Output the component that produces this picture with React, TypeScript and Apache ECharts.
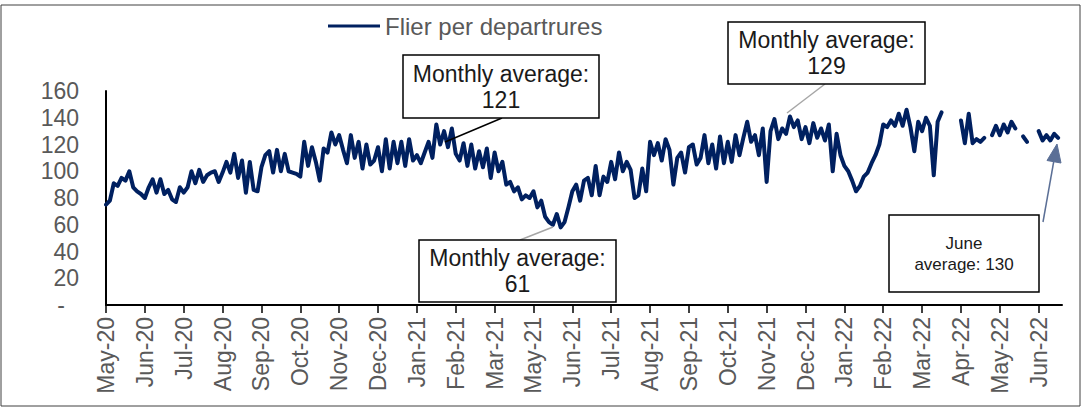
import React, { useEffect, useRef } from 'react';
import * as echarts from 'echarts';

// Month tick labels (one every 10 points of the series; April 2021 is skipped as in the source)
const tickLabels = [
  'May-20', 'Jun-20', 'Jul-20', 'Aug-20', 'Sep-20', 'Oct-20', 'Nov-20', 'Dec-20',
  'Jan-21', 'Feb-21', 'Mar-21', 'May-21', 'Jun-21', 'Jul-21', 'Aug-21', 'Sep-21',
  'Oct-21', 'Nov-21', 'Dec-21', 'Jan-22', 'Feb-22', 'Mar-22', 'Apr-22', 'May-22', 'Jun-22',
];
const pointsPerTick = 10;

const seriesName = 'Flier per departrures';

// Flier per departure, sampled roughly every 3 days (null = no data)
const values: (number | null)[] = [
  75, 78, 91, 89, 95, 93, 100, 88, 85, 83,
  80, 88, 94, 84, 94, 83, 86, 79, 77, 88,
  84, 88, 100, 91, 101, 92, 97, 99, 100, 92,
  99, 107, 99, 113, 95, 108, 84, 107, 86, 85,
  103, 112, 115, 99, 116, 100, 113, 100, 99, 98,
  96, 122, 104, 118, 107, 93, 117, 114, 129, 120,
  127, 116, 106, 127, 110, 122, 102, 120, 105, 108,
  118, 100, 124, 102, 122, 106, 122, 104, 124, 108,
  112, 106, 114, 122, 110, 135, 120, 130, 118, 132,
  113, 108, 121, 104, 120, 102, 115, 103, 117, 95,
  114, 100, 107, 90, 92, 85, 88, 79, 82, 80,
  85, 73, 78, 66, 62, 60, 68, 58, 62, 73,
  85, 90, 78, 93, 95, 82, 104, 82, 96, 92,
  107, 94, 114, 100, 107, 101, 80, 82, 102, 85,
  122, 112, 121, 108, 124, 116, 90, 110, 114, 99,
  118, 120, 105, 110, 127, 106, 120, 102, 126, 106,
  122, 107, 127, 112, 125, 137, 122, 127, 112, 132,
  92, 130, 139, 124, 132, 128, 141, 133, 138, 124,
  133, 121, 136, 125, 132, 123, 135, 100, 128, 112,
  104, 100, 93, 85, 89, 96, 99, 106, 112, 120,
  135, 133, 138, 134, 143, 134, 146, 133, 115, 137,
  130, 140, 134, 97, 137, 144, null, null, null, null,
  138, 121, 143, 121, 124, 122, 125, null, 127, 134,
  127, 135, 129, 137, 132, null, 126, 122, null, null,
  130, 123, 127, 123, 128, 125, null,
];

const annotations = [
  { text: 'Monthly average:\n121' },
  { text: 'Monthly average:\n61' },
  { text: 'Monthly average:\n129' },
  { text: 'June\naverage: 130' },
];

const FONT = '"Liberation Sans", Arial, sans-serif';

export default function App() {
  const ref = useRef<HTMLDivElement>(null);

  useEffect(() => {
    if (!ref.current) return;
    const chart = echarts.init(ref.current, undefined, { renderer: 'svg' });

    const categories = values.map((_, i) =>
      i % pointsPerTick === 0 && tickLabels[i / pointsPerTick] ? tickLabels[i / pointsPerTick] : ''
    );
    const isTick = (i: number) => i % pointsPerTick === 0 && i / pointsPerTick < tickLabels.length;

    const box = (x: number, y: number, w: number, h: number, text: string, size: number, lh: number) => [
      {
        type: 'rect',
        z: 100,
        shape: { x, y, width: w, height: h },
        style: { fill: '#ffffff', stroke: '#000000', lineWidth: 1.5 },
      },
      {
        type: 'text',
        z: 101,
        x: x + w / 2,
        y: y + h / 2,
        style: {
          text,
          fill: '#1a1a1a',
          font: `${size}px ${FONT}`,
          textAlign: 'center',
          textVerticalAlign: 'middle',
          lineHeight: lh,
        },
      },
    ];

    const option: any = {
      animation: false,
      backgroundColor: '#ffffff',
      grid: { left: 106, right: 26, top: 91, bottom: 105, containLabel: false },
      legend: {
        data: [seriesName],
        left: 323,
        top: 9,
        itemWidth: 52,
        itemHeight: 14,
        itemGap: 5,
        icon: 'path://M0,5.5 L52,5.5 L52,8.5 L0,8.5 Z',
        textStyle: { fontSize: 24, color: '#595959', fontFamily: FONT, padding: [0, 0, 0, 0] },
      },
      xAxis: {
        type: 'category',
        data: categories,
        boundaryGap: false,
        axisLine: { lineStyle: { color: '#000000', width: 2 } },
        axisTick: {
          show: true,
          interval: (i: number) => isTick(i),
          length: 8,
          lineStyle: { color: '#000000', width: 1.5 },
        },
        axisLabel: {
          interval: (i: number) => isTick(i),
          rotate: 90,
          margin: 12,
          fontSize: 23,
          color: '#595959',
          fontFamily: FONT,
        },
        splitLine: { show: false },
      },
      yAxis: {
        type: 'value',
        min: 0,
        max: 160,
        interval: 20,
        axisLine: { show: true, lineStyle: { color: '#000000', width: 2 } },
        axisTick: { show: false },
        splitLine: { show: false },
        axisLabel: {
          margin: 27,
          fontSize: 23,
          color: '#595959',
          fontFamily: FONT,
          formatter: (v: number) => (v === 0 ? '{d|-}' : String(v)),
          rich: {
            d: { fontSize: 23, color: '#595959', fontFamily: FONT, padding: [0, 14, 0, 0] },
          },
        },
      },
      series: [
        {
          type: 'line',
          name: seriesName,
          data: values,
          symbol: 'none',
          connectNulls: false,
          lineStyle: { color: '#002060', width: 4, join: 'round', cap: 'round' },
          itemStyle: { color: '#002060' },
        },
      ],
      graphic: [
        {
          type: 'rect',
          z: 0,
          silent: true,
          shape: { x: 1, y: 5, width: 1079, height: 401 },
          style: { fill: 'none', stroke: '#404040', lineWidth: 1 },
        },
        { type: 'line', z: 99, shape: { x1: 502, y1: 118, x2: 445, y2: 142 }, style: { stroke: '#000000', lineWidth: 1.5 } },
        { type: 'line', z: 99, shape: { x1: 520, y1: 240, x2: 553, y2: 227 }, style: { stroke: '#a6a6a6', lineWidth: 1.5 } },
        { type: 'line', z: 99, shape: { x1: 825, y1: 84, x2: 787, y2: 113 }, style: { stroke: '#a6a6a6', lineWidth: 1.5 } },
        { type: 'line', z: 99, shape: { x1: 1043, y1: 222, x2: 1054, y2: 160 }, style: { stroke: '#5b6f96', lineWidth: 1.5 } },
        {
          type: 'polygon',
          z: 99,
          shape: { points: [[1057, 144], [1061, 163], [1047, 160.5]] },
          style: { fill: '#5b6f96', stroke: '#5b6f96', lineWidth: 1 },
        },
        ...box(403, 55, 196, 63, annotations[0].text, 23, 26),
        ...box(419, 240, 197, 62, annotations[1].text, 23, 26),
        ...box(728, 22, 197, 62, annotations[2].text, 23, 26),
        ...box(889, 215, 150, 77, annotations[3].text, 17, 21),
      ],
    };

    chart.setOption(option);
    return () => chart.dispose();
  }, []);

  return (
    <div
      ref={ref}
      style={{ position: 'fixed', left: 0, top: 0, width: 1088, height: 410, background: '#ffffff' }}
    />
  );
}
